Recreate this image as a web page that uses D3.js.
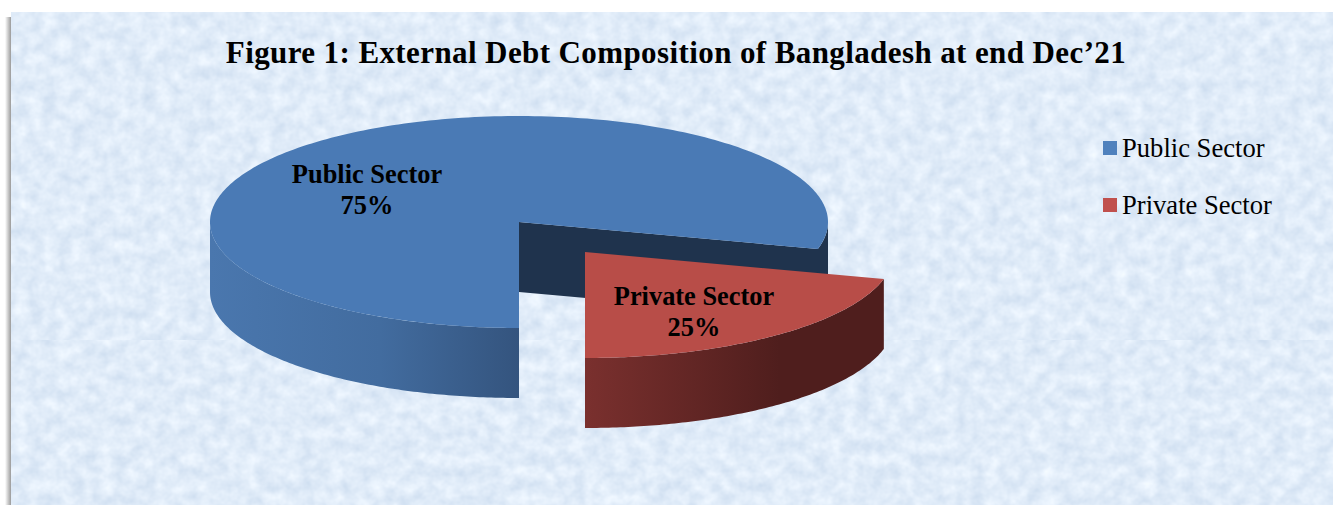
<!DOCTYPE html>
<html>
<head>
<meta charset="utf-8">
<script src="https://cdn.jsdelivr.net/npm/d3@7/dist/d3.min.js"></script>
<style>
  html, body { margin: 0; padding: 0; background: #fff; overflow: hidden; }
  svg { display: block; }
  text { font-family: "Liberation Serif", "Times New Roman", serif; fill: #000; }
</style>
</head>
<body>
<svg id="chart" width="1333" height="505"></svg>
<script>
const titleText = "Figure 1: External Debt Composition of Bangladesh at end Dec\u201921";
const categories = ["Public Sector", "Private Sector"];
const shares = [75, 25];

const width = 1333, height = 505;
const svg = d3.select("#chart");
const defs = svg.append("defs");

// Pie geometry: ellipse radii, extrusion depth and the pulled-out offset of the small slice
const cx = 519, cy = 222, rx = 309, ry = 106, depth = 70;
const explode = [[0, 0], [66, 30]];
const perspective = 0.771;

// Mottled paper texture, two tiles with a faint seam
function paperFilter(id, seed) {
  const f = defs.append("filter").attr("id", id)
    .attr("x", 0).attr("y", 0).attr("width", 1).attr("height", 1)
    .attr("color-interpolation-filters", "sRGB");
  f.append("feTurbulence").attr("type", "fractalNoise")
    .attr("baseFrequency", "0.07 0.075").attr("numOctaves", 3).attr("seed", seed);
  f.append("feColorMatrix").attr("type", "matrix").attr("values",
    "0.17 0 0 0 0.795  0.13 0 0 0 0.86  0.08 0 0 0 0.935  0 0 0 0 1");
}
paperFilter("paperA", 4);
paperFilter("paperB", 11);

const edge = defs.append("linearGradient").attr("id", "edgeShade")
  .attr("x1", 0).attr("x2", 1).attr("y1", 0).attr("y2", 0);
edge.append("stop").attr("offset", 0).attr("stop-color", "#fff");
edge.append("stop").attr("offset", 1).attr("stop-color", "#9a9a9a");

function wallGradient(id, x1, x2, stops) {
  const g = defs.append("linearGradient").attr("id", id)
    .attr("gradientUnits", "userSpaceOnUse")
    .attr("x1", x1).attr("x2", x2).attr("y1", 0).attr("y2", 0);
  stops.forEach(([o, c]) => g.append("stop").attr("offset", o).attr("stop-color", c));
}
wallGradient("blueWall", 210, 519, [[0, "#4a77ae"], [0.55, "#426c9f"], [1, "#34547e"]]);
wallGradient("redWall", 585, 885, [[0, "#7a302e"], [0.65, "#4f1e1d"], [1, "#4f1e1d"]]);

// Page background and the soft shadow on the panel's left edge
svg.append("rect").attr("width", width).attr("height", height).attr("fill", "#fff");
svg.append("rect").attr("x", 5).attr("y", 17).attr("width", 6).attr("height", height - 17)
  .attr("fill", "url(#edgeShade)");
svg.append("rect").attr("x", 11).attr("y", 12).attr("width", width - 11).attr("height", height - 12)
  .attr("fill", "#e0ebf8");
svg.append("rect").attr("x", 11).attr("y", 12).attr("width", width - 11).attr("height", 328)
  .attr("filter", "url(#paperA)");
svg.append("rect").attr("x", 11).attr("y", 340).attr("width", width - 11).attr("height", height - 340)
  .attr("filter", "url(#paperB)");

// Perspective squeezes the front of the disc: angles are measured clockwise from the bottom point
function warp(a) {
  const phi = a - Math.PI;
  const turns = Math.round(phi / (2 * Math.PI));
  const rel = phi - turns * 2 * Math.PI;
  return Math.PI + turns * 2 * Math.PI + 2 * Math.atan(perspective * Math.tan(rel / 2));
}
function rimPoint(a, i) {
  const t = warp(a);
  return [cx + explode[i][0] + rx * Math.sin(t), cy + explode[i][1] - ry * Math.cos(t)];
}
function rim(a0, a1, i) {
  const n = Math.max(2, Math.ceil(Math.abs(a1 - a0) * 60));
  return d3.range(n + 1).map(k => rimPoint(a0 + (a1 - a0) * k / n, i));
}

const pie = d3.pie().sort(null).startAngle(Math.PI).endAngle(3 * Math.PI);
const slices = pie(shares);
const line = d3.line();
const path = pts => line(pts) + "Z";
const topColors = ["#4a7ab5", "#b84d48"];

const blue = slices[0], red = slices[1];
const apex = i => [cx + explode[i][0], cy + explode[i][1]];
const drop = (pts) => pts.map(([x, y]) => [x, y + depth]);

// Blue slice: outer wall from the bottom point round to the disc's left extreme
const leftExtreme = Math.PI + 2 * Math.atan(1 / perspective);
const leftRim = rim(blue.startAngle, leftExtreme, 0);
svg.append("path").attr("d", path(leftRim.concat(drop(leftRim).reverse())))
  .attr("fill", "url(#blueWall)");

// Blue slice: the cut face and the short stretch of outer wall on the right
const farTip = rimPoint(blue.endAngle, 0);
const rightRim = d3.range(0, 41).map(k => {
  const t = Math.PI / 2 + (warp(blue.endAngle) - 2 * Math.PI - Math.PI / 2) * k / 40;
  return [cx + rx * Math.sin(t), cy - ry * Math.cos(t)];
});
svg.append("path")
  .attr("d", path([apex(0), farTip].concat(rightRim.slice().reverse())
    .concat(drop(rightRim)).concat(drop([farTip, apex(0)]))))
  .attr("fill", "#1f334d");

// Blue slice: top surface
svg.append("path")
  .attr("d", path([apex(0)].concat(rim(blue.startAngle, blue.endAngle, 0))))
  .attr("fill", topColors[0]);

// Red slice: outer wall, then top surface
const redRim = rim(red.startAngle, red.endAngle, 1);
svg.append("path").attr("d", path(redRim.concat(drop(redRim).reverse())))
  .attr("fill", "url(#redWall)");
svg.append("path").attr("d", path([apex(1)].concat(redRim)))
  .attr("fill", topColors[1]);

// Title
svg.append("text").attr("x", 676).attr("y", 63).attr("text-anchor", "middle")
  .attr("font-size", 31).attr("font-weight", "bold").attr("letter-spacing", 0.4)
  .text(titleText);

// Data labels sit on the top surfaces
const labelPos = [[367, 183, 214], [694, 305, 336]];
categories.forEach((c, i) => {
  const [x, y1, y2] = labelPos[i];
  const t = svg.append("text").attr("text-anchor", "middle")
    .attr("font-size", 26.4).attr("font-weight", "bold");
  t.append("tspan").attr("x", x).attr("y", y1).text(c);
  t.append("tspan").attr("x", x).attr("y", y2).text(shares[i] + "%");
});

// Legend
const legendY = d3.scalePoint().domain(categories).range([157, 214]);
const legendColors = ["#4f81bd", "#c0504d"];
categories.forEach((c, i) => {
  svg.append("rect").attr("x", 1103).attr("y", legendY(c) - 16).attr("width", 14).attr("height", 14)
    .attr("fill", legendColors[i]);
  svg.append("text").attr("x", 1122).attr("y", legendY(c))
    .attr("font-size", 26.6).text(c);
});
</script>
</body>
</html>
